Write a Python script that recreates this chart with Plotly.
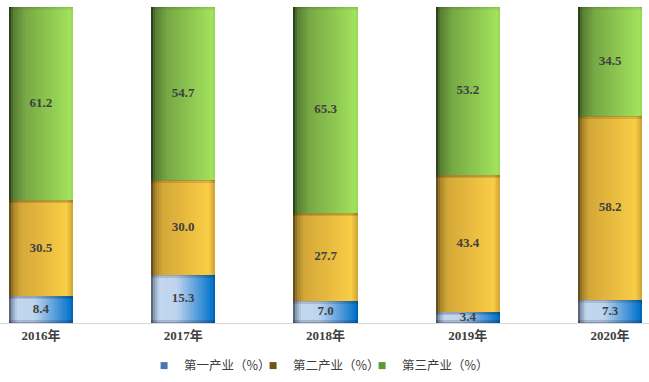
import plotly.graph_objects as go

years = ["2016年", "2017年", "2018年", "2019年", "2020年"]
primary = [8.4, 15.3, 7.0, 3.4, 7.3]
secondary = [30.5, 30.0, 27.7, 43.4, 58.2]
tertiary = [61.2, 54.7, 65.3, 53.2, 34.5]
series_names = ["第一产业（%）", "第二产业（%）", "第三产业（%）"]

# gradient stops (position across bar, rgb)
blue_stops = [(0.0, (70, 78, 96)), (0.05, (140, 158, 185)), (0.13, (195, 215, 238)),
              (0.4, (190, 212, 238)), (0.95, (10, 118, 205)), (1.0, (0, 95, 170))]
yellow_stops = [(0.0, (80, 62, 22)), (0.06, (165, 130, 42)), (0.18, (212, 168, 55)),
                (0.9, (250, 205, 70)), (1.0, (205, 160, 50))]
green_stops = [(0.0, (30, 48, 22)), (0.06, (85, 125, 52)), (0.25, (118, 168, 68)),
               (0.95, (162, 226, 92)), (1.0, (150, 212, 85))]
legend_colors = ["#4a78ad", "#6e5516", "#5a9a30"]


def grad(stops, t):
    for (t0, c0), (t1, c1) in zip(stops[:-1], stops[1:]):
        if t0 <= t <= t1:
            f = (t - t0) / (t1 - t0) if t1 > t0 else 0
            c = [round(a + (b - a) * f) for a, b in zip(c0, c1)]
            return f"rgb({c[0]},{c[1]},{c[2]})"
    c = stops[-1][1]
    return f"rgb({c[0]},{c[1]},{c[2]})"


x = list(range(len(years)))
bar_w = 0.45
N = 32
sw = bar_w / N

fig = go.Figure()

series = [primary, secondary, tertiary]
stops_list = [blue_stops, yellow_stops, green_stops]
bases = []
cum = [0.0] * len(years)
for vals in series:
    bases.append(list(cum))
    cum = [c + v for c, v in zip(cum, vals)]

for vals, base, stops in zip(series, bases, stops_list):
    for i in range(N):
        t = (i + 0.5) / N
        fig.add_trace(go.Bar(
            x=x, y=vals, base=base,
            width=bar_w - i * sw, offset=-bar_w / 2 + i * sw,
            marker=dict(color=grad(stops, t), line=dict(width=0)),
            showlegend=False, hoverinfo="skip",
        ))

# soft inner shadow at segment edges
shadow = 0.9
for k, (vals, base) in enumerate(zip(series, bases)):
    alphas = [0.22, 0.12] if k < 2 else [0.12, 0.06]
    for j, a in enumerate(alphas):
        fig.add_trace(go.Bar(
            x=x, y=[shadow / 2] * len(x), base=[b + v - shadow / 2 * (j + 1) for b, v in zip(base, vals)],
            width=bar_w, offset=-bar_w / 2,
            marker=dict(color=f"rgba(0,0,0,{a})", line=dict(width=0)),
            showlegend=False, hoverinfo="skip",
        ))
    if k == 0:
        for j, a in enumerate([0.3, 0.15]):
            fig.add_trace(go.Bar(
                x=x, y=[shadow / 2] * len(x), base=[b + shadow / 2 * j for b in base],
                width=bar_w, offset=-bar_w / 2,
                marker=dict(color=f"rgba(0,0,40,{a})", line=dict(width=0)),
                showlegend=False, hoverinfo="skip",
            ))

# labels
for vals, base in zip(series, bases):
    fig.add_trace(go.Scatter(
        x=x, y=[b + v / 2 for b, v in zip(base, vals)],
        mode="text", text=[f"{v:.1f}" for v in vals],
        textfont=dict(family="Liberation Serif, Times New Roman, serif", size=13, color="#404040", weight="bold"),
        showlegend=False, hoverinfo="skip",
    ))

# legend entries
for name, col in zip(series_names, legend_colors):
    fig.add_trace(go.Scatter(x=[None], y=[None], name=name, mode="markers",
                             marker=dict(color=col, symbol="square", size=7)))
# spacer entry so the last legend label is not clipped
fig.add_trace(go.Scatter(x=[None], y=[None], name=" ", mode="markers",
                         marker=dict(color="rgba(0,0,0,0)", symbol="square", size=7)))

fig.update_layout(
    width=649, height=382,
    margin=dict(l=0, r=0, t=7, b=59),
    barmode="overlay",
    bargap=0,
    plot_bgcolor="white", paper_bgcolor="white",
    showlegend=True,
    legend=dict(orientation="h", x=0.222, xanchor="left", y=-0.136, yanchor="middle",
                font=dict(family="Noto Sans CJK SC", size=12.5, color="#404040"),
                itemwidth=30, tracegroupgap=0, entrywidth=64, entrywidthmode="pixels"),
    xaxis=dict(range=[-0.288, 4.274], tickvals=x, ticktext=years, showgrid=False, zeroline=False,
               showline=True, linecolor="#d9d9d9", linewidth=1, ticks="",
               tickfont=dict(family="Liberation Serif, Noto Sans CJK SC", size=13, color="#404040", weight="bold")),
    yaxis=dict(range=[0, 100], visible=False, showgrid=False, zeroline=False),
)

fig.write_html("out.html", config={"displayModeBar": False},
               post_script="document.body.style.margin='0px';")
